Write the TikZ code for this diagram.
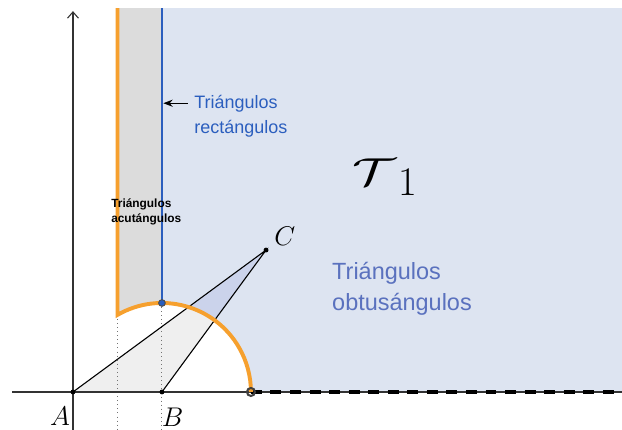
\documentclass[tikz,border=0pt]{standalone}
\usepackage{fontspec}
\usepackage{amsmath,amssymb,graphicx}
\usetikzlibrary{arrows.meta,positioning}
\newfontfamily\lblfont{Liberation Sans}
\definecolor{regblue}{HTML}{DDE4F1}
\definecolor{stripgray}{HTML}{DCDCDC}
\definecolor{trigray}{HTML}{EFEFEF}
\definecolor{triblue}{HTML}{CBD3EB}
\definecolor{orng}{HTML}{F6A02E}
\definecolor{rectblue}{HTML}{2B5EBE}
\definecolor{obtblue}{HTML}{5A71BE}

\begin{document}
\begin{tikzpicture}[every node/.style={inner sep=0pt},
  axisline/.style={line width=.7pt,black!80},
  sideline/.style={line width=.7pt},
  guide/.style={dotted,line width=.6pt,black!55},
  ptdot/.style={fill=black},
  ptlabel/.style={font=\fontsize{18}{20}\selectfont},
  typetext/.style={align=left,anchor=north west}]
\useasboundingbox (-1.64,-0.854) rectangle (12.34,8.81);
\coordinate (A) at (0,0);
\coordinate (B) at (2,0);
\coordinate (C) at (4.34,3.19);
\coordinate (P) at (1,1.7321);
\coordinate (Q) at (2,2);
\coordinate (R) at (4,0);
\coordinate (Ptop) at (1,8.63);
\coordinate (Qtop) at (2,8.63);
\coordinate (Pbot) at (1,-0.854);
\coordinate (Qbot) at (2,-0.854);
\coordinate (xleft) at (-1.37,0);
\coordinate (xright) at (12.55,0);
\coordinate (xend) at (12.34,0);
\coordinate (ybot) at (0,-0.854);
\coordinate (ytop) at (0,8.56);
% regions
\fill[regblue] (R) arc[start angle=0,end angle=90,radius=2] -- (Qtop) -- (12.34,8.63) -- (xend) -- cycle;
\fill[stripgray] (P) arc[start angle=120,end angle=90,radius=2] -- (Qtop) -- (Ptop) -- cycle;
\begin{scope}
\clip (A)--(B)--(C)--cycle;
\fill[trigray] (A)--(B)--(C)--cycle;
\fill[triblue] (R) arc[start angle=0,end angle=90,radius=2] -- (Qtop) -- (12.34,8.63) -- (xend) -- cycle;
\end{scope}
% guides and axes
\draw[guide] (P) -- (Pbot);
\draw[guide] (Q) -- (Qbot);
\draw[axisline,-{Straight Barb[length=4pt,width=7pt]}] (xleft) -- (xright);
\draw[axisline,-{Straight Barb[length=4pt,width=7pt]}] (ybot) -- (ytop);
\draw[sideline] (A) -- (C) -- (B);
\draw[line width=2pt,dash pattern=on 7pt off 5.5pt] (R) -- (xend);
% boundaries
\draw[orng,line width=2.5pt] (Ptop) -- (P) arc[start angle=120,end angle=0,radius=2];
\draw[rectblue,line width=1.2pt] (Q) -- (Qtop);
% points
\fill[ptdot] (A) circle (0.055);
\fill[ptdot] (B) circle (0.055);
\fill[ptdot] (C) circle (0.055);
\filldraw[fill=rectblue,draw=black!70,line width=.6pt] (Q) circle (0.075);
\draw[black!75,line width=1.3pt] (R) circle (0.09);
% labels
\node[ptlabel] (lA) at (-0.29,-0.54) {$A$};
\node[ptlabel] (lB) at (2.24,-0.57) {$B$};
\node[ptlabel] (lC) at (4.76,3.49) {$C$};
\node[anchor=base west,font=\fontsize{38}{40}\selectfont] (T1) at (6.27,4.65) {\scalebox{1.4}[1]{$\mathcal{T}$}\hspace{2pt}\raisebox{-6.4pt}{\fontsize{26}{26}\selectfont 1}};
\node[typetext,text=rectblue,font=\lblfont\fontsize{11.5}{16}\selectfont] (rect) at (2.72,6.67) {Triángulos\\rectángulos};
\node[typetext,font=\lblfont\bfseries\fontsize{7.6}{10}\selectfont] (acut) at (0.854,4.36) {Triángulos\\acutángulos};
\node[typetext,text=obtblue,font=\lblfont\fontsize{15}{20}\selectfont] (obtu) at (5.82,2.92) {Triángulos\\obtusángulos};
\coordinate (rtail) at (2.58,6.49);
\coordinate (rtip) at (2.03,6.49);
\draw[line width=.8pt,-{Stealth[length=6pt,width=4.5pt]}] (rtail) -- (rtip);
\end{tikzpicture}
\end{document}
